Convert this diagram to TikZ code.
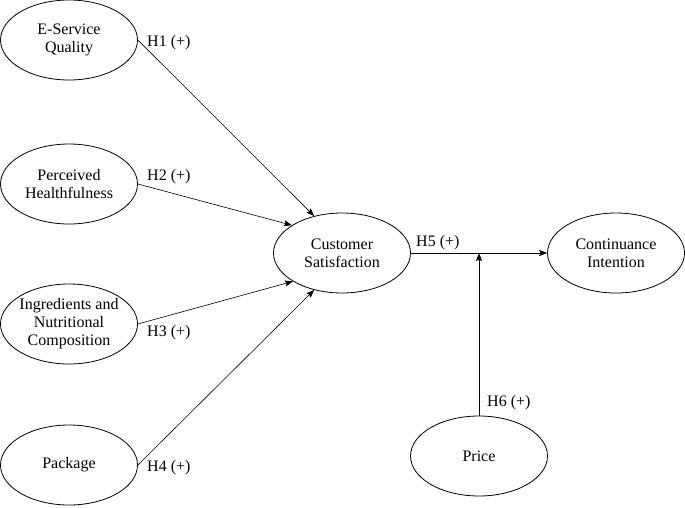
\documentclass[tikz,border=0pt]{standalone}
\usepackage{fontspec}
\setmainfont{Liberation Serif}
\usetikzlibrary{shapes.geometric,arrows.meta}

\tikzset{
  construct/.style={draw, ellipse, line width=0.8pt, minimum width=137pt,
    minimum height=80pt, inner xsep=-3pt, inner ysep=0pt, align=center,
    font=\fontsize{16}{18}\selectfont},
  hyp/.style={-{Stealth[length=8pt,width=6pt,inset=1.5pt]}, line width=0.6pt},
  hlabel/.style={anchor=west, inner sep=0pt, font=\fontsize{16}{18}\selectfont}
}

\begin{document}
\begin{tikzpicture}[x=1pt,y=-1pt]
\useasboundingbox (0,0) rectangle (685,507);

%% constructs
\node[construct] (esq) at (69,40) {E-Service\\Quality};
\node[construct] (ph) at (69,184) {Perceived\\Healthfulness};
\node[construct] (inc) at (69,324) {Ingredients and\\Nutritional\\Composition};
\node[construct] (pkg) at (69,465) {Package};
\node[construct] (cs) at (342,253) {Customer\\Satisfaction};
\node[construct] (ci) at (616,253) {Continuance\\Intention};
\node[construct] (pr) at (479,456) {Price};

%% hypotheses
\draw[hyp] (esq.east) -- (cs.127);
\draw[hyp] (ph.east) -- (cs.151);
\draw[hyp] (inc.east) -- (cs.210);
\draw[hyp] (pkg.east) -- (cs.233);
\draw[hyp] (cs.east) -- (ci.west);
\coordinate (mod) at (pr.north |- cs.east);
\draw[hyp] (pr.north) -- (mod);

%% labels
\node[hlabel] (h1) at (147,43) {H1 (+)};
\node[hlabel] (h2) at (147,177) {H2 (+)};
\node[hlabel] (h3) at (147,333) {H3 (+)};
\node[hlabel] (h4) at (147,468) {H4 (+)};
\node[hlabel] (h5) at (416,243) {H5 (+)};
\node[hlabel] (h6) at (487,403) {H6 (+)};

\end{tikzpicture}
\end{document}
